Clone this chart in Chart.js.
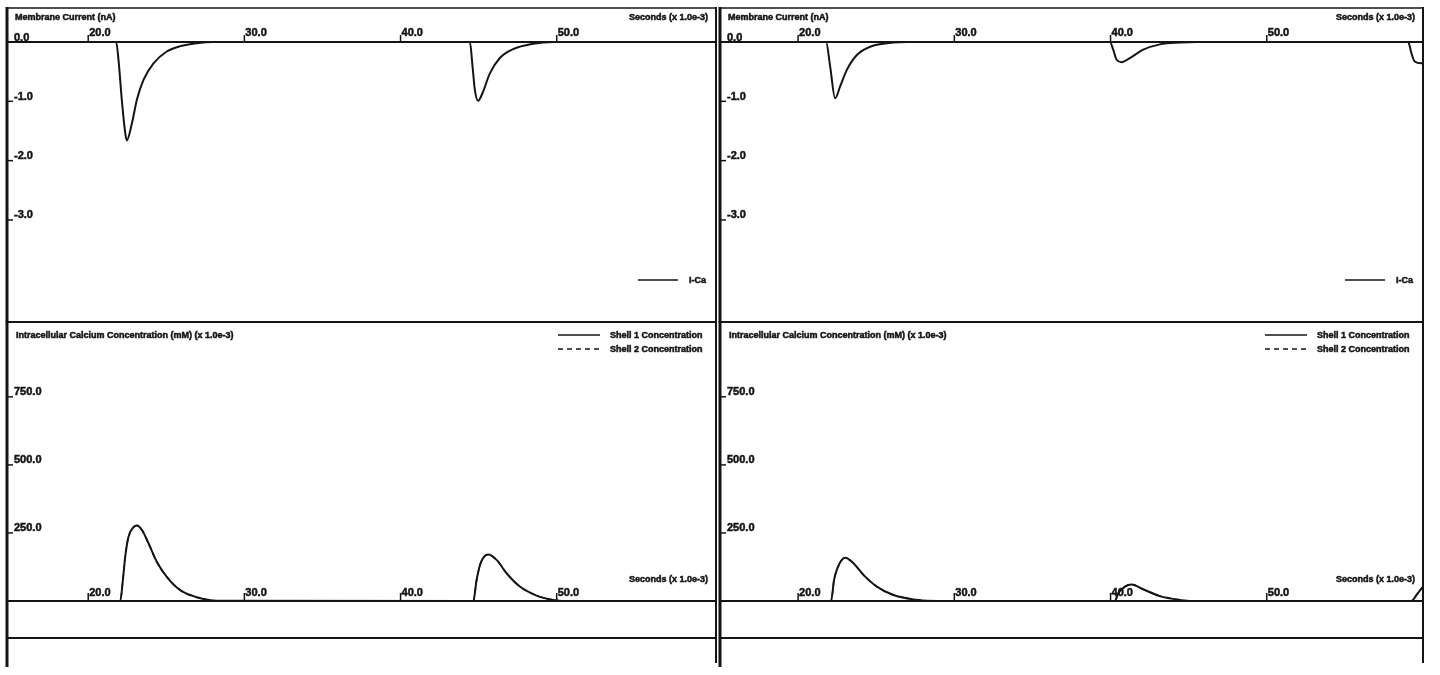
<!DOCTYPE html>
<html>
<head>
<meta charset="utf-8">
<script src="https://cdn.jsdelivr.net/npm/chart.js@4.4.0/dist/chart.umd.min.js"></script>
<style>
  body { margin: 0; background: #fff; width: 1440px; height: 675px; position: relative; overflow: hidden; }
  canvas { position: absolute; }
</style>
</head>
<body>
<canvas id="c-tl" width="720" height="323" style="left:0;top:0"></canvas>
<canvas id="c-tr" width="722" height="323" style="left:718px;top:0"></canvas>
<canvas id="c-bl" width="720" height="357" style="left:0;top:318px"></canvas>
<canvas id="c-br" width="722" height="357" style="left:718px;top:318px"></canvas>
<script>
// tick labels
var timeTicks = [20, 30, 40, 50]
var currentTicks = [0, -1, -2, -3]
var calciumTicks = [250, 500, 750]

// membrane current I-Ca (nA), left run
var icaLeftTime = [14.8, 21.79, 21.94, 22.15, 22.37, 22.47, 22.8, 23.12, 23.54, 24.18, 25.03, 25.89, 26.95, 28.0,
  44.44, 44.61, 44.76, 44.97, 45.25, 45.72, 46.36, 47.21, 48.49, 49.77, 60.2]
var icaLeftValue = [0, 0, -0.30, -0.97, -1.53, -1.66, -1.37, -0.97, -0.64, -0.36, -0.16, -0.07, -0.02, 0,
  0, -0.41, -0.81, -0.99, -0.86, -0.53, -0.27, -0.12, -0.03, 0, 0]

// membrane current I-Ca (nA), right run
var icaRightTime = [15, 21.79, 22.05, 22.37, 22.69, 23.12, 23.76, 24.61, 26.1, 27.0,
  39.96, 40.17, 40.39, 40.71, 41.24, 42.09, 43.16, 44.44, 45.5, 59.05, 59.26, 59.47, 59.9, 60]
var icaRightValue = [0, 0, -0.41, -0.95, -0.75, -0.47, -0.22, -0.08, -0.01, 0,
  0, -0.13, -0.30, -0.34, -0.27, -0.13, -0.04, -0.01, 0, 0, -0.19, -0.33, -0.36, -0.35]

// shell 1 calcium (mM x 1e-3), left run
var shell1LeftTime = [14.8, 22.05, 22.22, 22.37, 22.58, 22.9, 23.12, 23.44, 23.86, 24.39, 25.03, 25.89, 26.95, 28.23,
  44.66, 44.87, 45.13, 45.61, 46.15, 46.79, 47.64, 48.71, 49.77, 50.4, 60.2]
var shell1LeftValue = [0, 0, 77, 163, 236, 271, 277, 261, 212, 144, 89, 40, 14, 1,
  0, 77, 139, 171, 151, 102, 53, 20, 4, 0, 0]

// shell 1 calcium, right run
var shell1RightTime = [15, 22.11, 22.3, 22.51, 23.01, 23.54, 24.18, 25.04, 26.1, 27.38, 28.9,
  40.28, 40.49, 40.92, 41.35, 42.09, 43.16, 44.44, 45.2, 59.26, 59.58, 60]
var shell1RightValue = [0, 0, 77, 120, 159, 139, 96, 53, 22, 6, 0,
  0, 28, 53, 61, 43, 18, 4, 0, 0, 22, 53]

// shell 2 is hidden under shell 1 in the scan
var shell2LeftValue = shell1LeftValue.slice()
var shell2RightValue = shell1RightValue.slice()

var ink = '#141414'
var titleFont = "bold 9px 'Liberation Sans', Arial, sans-serif"
var tickFont = "bold 11px 'Liberation Sans', Arial, sans-serif"

function pts(xs, ys) {
  return xs.map(function (x, i) { return { x: x, y: ys[i] } })
}

function line(ctx, x1, y1, x2, y2, w, dash) {
  ctx.beginPath()
  ctx.lineWidth = w
  ctx.setLineDash(dash || [])
  ctx.moveTo(x1, y1)
  ctx.lineTo(x2, y2)
  ctx.stroke()
  ctx.setLineDash([])
}

// heavy text, like the scanned bitmap font
function text(ctx, s, x, y) {
  ctx.lineWidth = 0.5
  ctx.fillText(s, x, y)
  ctx.strokeText(s, x, y)
}

var panelFrame = {
  id: 'panelFrame',
  afterDatasetsDraw: function (chart, args, opts) {
    var ctx = chart.ctx
    var a = chart.chartArea
    var sx = chart.scales.x
    var sy = chart.scales.y
    ctx.save()
    ctx.strokeStyle = ink
    ctx.fillStyle = ink
    ctx.textBaseline = 'middle'

    if (opts.kind === 'current') {
      line(ctx, a.left, a.top - 34, a.right, a.top - 34, 1.5)
      ctx.font = titleFont
      ctx.textAlign = 'left'
      text(ctx, 'Membrane Current (nA)', a.left + 8, a.top - 24)
      ctx.textAlign = 'right'
      text(ctx, 'Seconds (x 1.0e-3)', a.right - 8, a.top - 24)
      // x axis along the top
      line(ctx, a.left, a.top, a.right, a.top, 2)
      ctx.font = tickFont
      ctx.textAlign = 'left'
      ctx.textBaseline = 'bottom'
      timeTicks.forEach(function (t) {
        var px = sx.getPixelForValue(t)
        line(ctx, px, a.top, px, a.top - 7, 1.5)
        text(ctx, t.toFixed(1), px + 1, a.top - 4)
      })
      currentTicks.forEach(function (v) {
        var py = sy.getPixelForValue(v)
        line(ctx, a.left, py, a.left + 6, py, 1.5)
        text(ctx, v.toFixed(1), a.left + 7, py + 1)
      })
      line(ctx, a.left, a.top - 35, a.left, a.bottom, 3)
      line(ctx, a.right, a.top - 35, a.right, a.bottom, 2)
      // legend
      var ds = chart.data.datasets[0]
      var ly = a.bottom - 42
      line(ctx, a.right - 78, ly, a.right - 38, ly, 1.5)
      ctx.font = titleFont
      ctx.textBaseline = 'middle'
      text(ctx, ds.label, a.right - 27, ly + 1)
    } else {
      line(ctx, a.left, a.top, a.right, a.top, 2)
      ctx.font = titleFont
      ctx.textAlign = 'left'
      text(ctx, 'Intracellular Calcium Concentration (mM) (x 1.0e-3)', a.left + 9, a.top + 14)
      // legend, shell 1 first
      chart.data.datasets.forEach(function (ds, i) {
        var ly = a.top + 13 + i * 14
        line(ctx, a.right - 158, ly, a.right - 116, ly, 1.5, ds.borderDash)
        text(ctx, ds.label, a.right - 106, ly + 1)
      })
      ctx.textAlign = 'right'
      text(ctx, 'Seconds (x 1.0e-3)', a.right - 8, a.bottom - 21)
      // x axis along the bottom
      line(ctx, a.left, a.bottom, a.right, a.bottom, 2)
      line(ctx, a.left, a.bottom + 37, a.right, a.bottom + 37, 2)
      ctx.font = tickFont
      ctx.textAlign = 'left'
      ctx.textBaseline = 'bottom'
      timeTicks.forEach(function (t) {
        var px = sx.getPixelForValue(t)
        line(ctx, px, a.bottom, px, a.bottom - 8, 1.5)
        text(ctx, t.toFixed(1), px + 1, a.bottom - 3)
      })
      calciumTicks.forEach(function (v) {
        var py = sy.getPixelForValue(v)
        line(ctx, a.left, py, a.left + 6, py, 1.5)
        text(ctx, v.toFixed(1), a.left + 7, py + 1)
      })
      line(ctx, a.left, a.top - 1, a.left, a.bottom + 66, 3)
      line(ctx, a.right, a.top - 1, a.right, a.bottom + 62, 2)
    }
    ctx.restore()
  }
}

function makeChart(id, kind, datasets, xMin, xMax, yMin, yMax, padding) {
  var ctx = document.getElementById(id).getContext('2d')
  return new Chart(ctx, {
    type: 'line',
    data: { datasets: datasets },
    plugins: [panelFrame],
    options: {
      responsive: false,
      animation: false,
      devicePixelRatio: 1,
      layout: { padding: padding },
      elements: {
        point: { radius: 0 },
        line: { borderWidth: 2, borderColor: ink, cubicInterpolationMode: 'monotone' }
      },
      scales: {
        x: { type: 'linear', min: xMin, max: xMax, display: false },
        y: { type: 'linear', min: yMin, max: yMax, display: false }
      },
      plugins: {
        legend: { display: false },
        tooltip: { enabled: false },
        panelFrame: { kind: kind }
      }
    }
  })
}

function currentSet(xs, ys) {
  return [{ label: 'I-Ca', data: pts(xs, ys), borderColor: ink, borderWidth: 2, fill: false, clip: 4 }]
}

function calciumSets(xs, s1, s2) {
  return [
    { label: 'Shell 1 Concentration', data: pts(xs, s1), borderColor: ink, borderWidth: 2, fill: false, clip: 4, order: 0 },
    { label: 'Shell 2 Concentration', data: pts(xs, s2), borderColor: ink, borderWidth: 1.5, borderDash: [5, 4], fill: false, clip: 4, order: 1 }
  ]
}

makeChart('c-tl', 'current', currentSet(icaLeftTime, icaLeftValue), 14.8, 60.2, -4.72, 0,
  { left: 7, top: 42, right: 4, bottom: 1 })
makeChart('c-tr', 'current', currentSet(icaRightTime, icaRightValue), 15, 60, -4.72, 0,
  { left: 2, top: 42, right: 17, bottom: 1 })
makeChart('c-bl', 'calcium', calciumSets(shell1LeftTime, shell1LeftValue, shell2LeftValue), 14.8, 60.2, 0, 1025,
  { left: 7, top: 4, right: 4, bottom: 74 })
makeChart('c-br', 'calcium', calciumSets(shell1RightTime, shell1RightValue, shell2RightValue), 15, 60, 0, 1025,
  { left: 2, top: 4, right: 17, bottom: 74 })
</script>
</body>
</html>
